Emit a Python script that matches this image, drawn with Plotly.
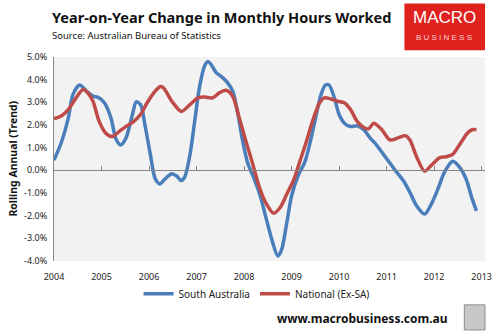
import plotly.graph_objects as go

# South Australia, rolling annual change in hours worked (trend, %)
sa_year = [2004.00, 2004.16, 2004.30, 2004.40, 2004.54, 2004.68, 2004.82, 2004.92,
           2005.06, 2005.20, 2005.30, 2005.40, 2005.51, 2005.65, 2005.73, 2005.82,
           2005.92, 2006.03, 2006.13, 2006.23, 2006.34, 2006.48, 2006.58, 2006.68,
           2006.75, 2006.86, 2006.96, 2007.06, 2007.17, 2007.24, 2007.30, 2007.41,
           2007.55, 2007.65, 2007.76, 2007.86, 2007.96, 2008.07, 2008.21, 2008.34,
           2008.45, 2008.59, 2008.71, 2008.79, 2008.90, 2009.00, 2009.14, 2009.28,
           2009.41, 2009.52, 2009.62, 2009.71, 2009.79, 2009.90, 2010.00, 2010.11,
           2010.24, 2010.38, 2010.52, 2010.66, 2010.76, 2010.97, 2011.18, 2011.35,
           2011.49, 2011.63, 2011.80, 2011.94, 2012.08, 2012.22, 2012.39, 2012.53,
           2012.67, 2012.80, 2012.89]
sa_value = [0.45, 1.26, 2.30, 3.35, 3.76, 3.50, 3.27, 3.23,
            2.98, 2.30, 1.40, 1.12, 1.40, 2.45, 3.02, 2.90,
            1.93, 0.67, -0.37, -0.60, -0.37, -0.15, -0.25, -0.45,
            -0.30, 0.67, 2.16, 3.65, 4.61, 4.80, 4.69, 4.32,
            4.09, 3.87, 3.50, 2.60, 1.41, 0.37, -0.37, -1.12,
            -2.00, -3.10, -3.78, -3.50, -2.30, -1.12, -0.22, 0.37,
            1.41, 2.46, 3.35, 3.76, 3.76, 3.20, 2.46, 2.08,
            1.93, 1.96, 1.79, 1.41, 1.19, 0.60, 0.00, -0.45,
            -0.97, -1.56, -1.93, -1.49, -0.82, -0.07, 0.40, 0.15,
            -0.37, -1.26, -1.79]

# National excluding South Australia
nat_year = [2004.00, 2004.16, 2004.30, 2004.44, 2004.61, 2004.71, 2004.82, 2004.95,
            2005.09, 2005.23, 2005.37, 2005.51, 2005.68, 2005.82, 2005.96, 2006.10,
            2006.23, 2006.30, 2006.48, 2006.68, 2006.86, 2007.03, 2007.17, 2007.34,
            2007.48, 2007.62, 2007.76, 2007.89, 2008.03, 2008.17, 2008.31, 2008.45,
            2008.62, 2008.76, 2008.90, 2009.04, 2009.17, 2009.31, 2009.45, 2009.59,
            2009.69, 2009.83, 2009.97, 2010.11, 2010.24, 2010.38, 2010.52, 2010.62,
            2010.73, 2010.90, 2011.07, 2011.25, 2011.39, 2011.49, 2011.63, 2011.80,
            2011.94, 2012.11, 2012.25, 2012.39, 2012.53, 2012.70, 2012.80, 2012.89]
nat_value = [2.28, 2.41, 2.68, 3.12, 3.57, 3.42, 3.05, 2.16,
             1.64, 1.49, 1.71, 1.93, 2.16, 2.46, 2.98, 3.42,
             3.69, 3.65, 3.05, 2.60, 2.90, 3.20, 3.23, 3.20,
             3.42, 3.53, 3.27, 2.38, 1.34, 0.37, -0.67, -1.41,
             -1.89, -1.64, -1.04, -0.45, 0.37, 1.26, 2.23, 2.98,
             3.20, 3.15, 3.05, 2.98, 2.68, 2.16, 1.89, 1.83,
             2.08, 1.79, 1.34, 1.44, 1.53, 1.34, 0.60, -0.04,
             0.22, 0.55, 0.60, 0.70, 1.12, 1.64, 1.79, 1.79]

year_ticks = list(range(2004, 2014))
pct_ticks = [5, 4, 3, 2, 1, 0, -1, -2, -3, -4]

BLUE = "#4A7EBB"
RED = "#BE4B48"
FONT = "Noto Sans"

fig = go.Figure()
fig.add_trace(go.Scatter(x=sa_year, y=sa_value, name="South Australia", mode="lines",
                         line=dict(color=BLUE, width=3.5, shape="spline", smoothing=0.8)))
fig.add_trace(go.Scatter(x=nat_year, y=nat_value, name="National (Ex-SA)", mode="lines",
                         line=dict(color=RED, width=3.5, shape="spline", smoothing=0.8)))
# carrier for the zero-crossing category axis
fig.add_trace(go.Scatter(x=[year_ticks[0]], y=[0], xaxis="x2", mode="lines",
                         showlegend=False, hoverinfo="skip", line=dict(width=0)))

fig.update_layout(
    width=503, height=335,
    margin=dict(l=54, r=11, t=57, b=74),
    paper_bgcolor="white", plot_bgcolor="#F2F2F2",
    font=dict(family=FONT, size=9, color="#222222"),
    showlegend=True,
    legend=dict(orientation="h", x=0.47, y=-0.16, xanchor="center", yanchor="middle",
                font=dict(size=10, family=FONT, color="#222222"), itemwidth=30,
                bgcolor="rgba(0,0,0,0)"),
    xaxis=dict(range=[2004, 2013.07], tickvals=year_ticks,
               ticktext=[str(y) for y in year_ticks], showgrid=False, zeroline=False,
               showline=False, ticks="", tickfont=dict(size=9), ticklabelstandoff=9),
    xaxis2=dict(overlaying="x", matches="x", anchor="free", position=4 / 9,
                tickvals=year_ticks, showticklabels=False, showgrid=False, zeroline=False,
                showline=True, linecolor="#868686", linewidth=1,
                ticks="inside", ticklen=4, tickcolor="#868686"),
    yaxis=dict(range=[-4, 5], tickvals=pct_ticks,
               ticktext=[f"{v:.1f}%" for v in pct_ticks], showgrid=False,
               zeroline=False, showline=True, linecolor="#868686", linewidth=1,
               ticks="", tickfont=dict(size=9), ticklabelstandoff=4),
)

# headings
fig.add_annotation(text="<b>Year-on-Year Change in Monthly Hours Worked</b>",
                   xref="paper", yref="paper", x=-0.01, y=1.197, xanchor="left",
                   yanchor="middle", showarrow=False,
                   font=dict(family=FONT, size=14.5, color="#111111"))
fig.add_annotation(text="Source: Australian Bureau of Statistics",
                   xref="paper", yref="paper", x=-0.01, y=1.105, xanchor="left",
                   yanchor="middle", showarrow=False,
                   font=dict(family=FONT, size=9.5, color="#111111"))
fig.add_annotation(text="<b>Rolling Annual (Trend)</b>", textangle=-90,
                   xref="paper", yref="paper", x=-0.096, y=0.5, xanchor="center",
                   yanchor="middle", showarrow=False,
                   font=dict(family=FONT, size=10.5, color="#111111"))

# brand badge
fig.add_shape(type="rect", xref="paper", yref="paper", x0=0.813, x1=1.0, y0=1.033, y1=1.262,
              line=dict(width=0), fillcolor="#E0221E", layer="above")
fig.add_annotation(text="MACRO", xref="paper", yref="paper", x=0.906, y=1.195,
                   xanchor="center", yanchor="middle", showarrow=False,
                   font=dict(family="Liberation Sans", size=17, color="white"))
fig.add_annotation(text="B U S I N E S S", xref="paper", yref="paper", x=0.906, y=1.098,
                   xanchor="center", yanchor="middle", showarrow=False,
                   font=dict(family="Liberation Sans", size=8, color="#FFD2D0"))

# footer
fig.add_annotation(text="<b>www.macrobusiness.com.au</b>", xref="paper", yref="paper",
                   x=0.715, y=-0.28, xanchor="center", yanchor="middle", showarrow=False,
                   font=dict(family=FONT, size=12, color="#111111"))
fig.add_shape(type="rect", xref="paper", yref="paper", x0=0.952, x1=1.0, y0=-0.215, y1=-0.338,
              line=dict(color="#8C8C8C", width=1), fillcolor="#C8C8C8")

fig.write_html("out.html")
